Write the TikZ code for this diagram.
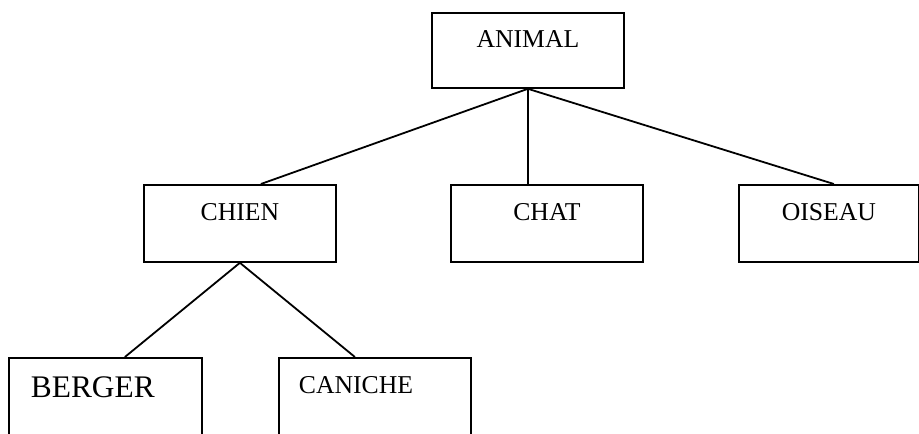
\documentclass[tikz,border=0pt]{standalone}
\usepackage{fontspec}
\setmainfont{Liberation Serif}
\usetikzlibrary{positioning,calc}

\begin{document}
\begin{tikzpicture}[x=0.5pt, y=-0.5pt, line width=0.9pt,
    boite/.style={draw, rectangle, anchor=north west, inner sep=0pt, minimum width=96pt,
        text height=18pt, text depth=20.5pt, font=\fontsize{12.85pt}{15pt}\selectfont},
    boite gauche/.style={boite, align=left, text depth=25pt}]
    \useasboundingbox (0,0) rectangle (919,433);
    \node[boite, text height=17.5pt, text depth=20pt] (animal) at (431,12) {ANIMAL};
    \node[boite] (chien) at (143,184) {CHIEN};
    \node[boite] (chat) at (450,184) {CHAT};
    \node[boite, minimum width=90pt] (oiseau) at (738,184) {OISEAU};
    \node[boite gauche, inner xsep=11pt, text width=74.5pt, text height=20pt,
        font=\fontsize{15.7pt}{18pt}\selectfont] (berger) at (8,357) {BERGER};
    \node[boite gauche, inner xsep=10pt, text width=76pt] (caniche) at (278,357) {CANICHE};
    \draw (animal.south) -- ([xshift=10.5pt]chien.north);
    \draw (animal.south) -- (animal.south |- chat.north);
    \draw (animal.south) -- ([xshift=2.5pt]oiseau.north);
    \draw (chien.south) -- ([xshift=9.75pt]berger.north);
    \draw (chien.south) -- ([xshift=-10pt]caniche.north);
\end{tikzpicture}
\end{document}
